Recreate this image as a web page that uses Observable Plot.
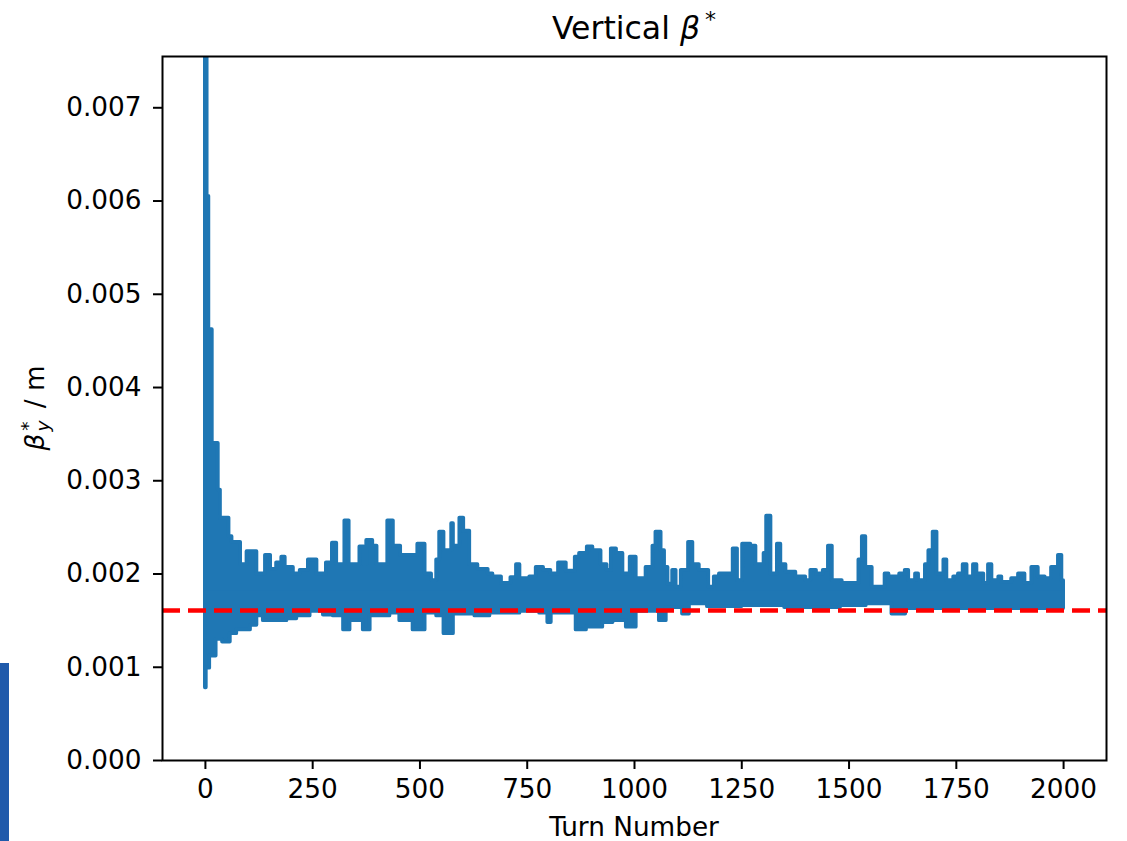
<!DOCTYPE html>
<html>
<head>
<meta charset="utf-8">
<script src="https://cdn.jsdelivr.net/npm/d3@7"></script>
<script src="https://cdn.jsdelivr.net/npm/@observablehq/plot@0.6"></script>
<style>
  html, body { margin: 0; padding: 0; background: #fff; }
  #wrap { position: relative; width: 1127px; height: 841px; overflow: hidden; }
  #edge { position: absolute; left: 0; top: 663px; width: 9px; height: 178px; background: #1f5aab; }
</style>
</head>
<body>
<div id="wrap"><div id="chart"></div><div id="edge"></div></div>
<script>
// ---- Data (envelope of the beta*_y trace per turn interval) ----
const upperTurn = [0,4,8,16,30,35,55,62,82,97,120,140,152,166,178,186,205,221,240,260,282,296,306,325,335,360,370,376,390,400,425,438,455,495,512,527,539,546,556,574,578,593,602,616,635,659,670,690,712,725,733,756,771,788,805,823,841,862,872,890,903,922,936,946,958,973,990,1004,1027,1043,1050,1062,1070,1078,1089,1097,1109,1126,1136,1151,1173,1186,1198,1230,1240,1252,1271,1283,1302,1308,1318,1333,1341,1353,1376,1399,1411,1424,1440,1452,1461,1484,1523,1531,1539,1554,1584,1593,1618,1631,1639,1655,1662,1678,1686,1696,1705,1721,1728,1744,1755,1766,1775,1790,1798,1814,1825,1833,1849,1856,1879,1895,1910,1926,1941,1957,1972,1988,1996,2000];
const upperBeta = [0.0085,0.00605,0.00462,0.0034,0.0029,0.0026,0.0024,0.00234,0.0021,0.00224,0.002,0.0022,0.00205,0.00212,0.00218,0.00207,0.002,0.00204,0.00215,0.002,0.00212,0.00233,0.0021,0.00257,0.0021,0.00229,0.0021,0.00236,0.0023,0.0021,0.00257,0.0023,0.0022,0.00232,0.002,0.00193,0.00215,0.00245,0.00225,0.00254,0.0023,0.0026,0.00246,0.0021,0.00205,0.002,0.00197,0.0019,0.00196,0.0021,0.00195,0.00197,0.00207,0.00204,0.002,0.00212,0.00203,0.00218,0.00222,0.00229,0.00225,0.0021,0.00204,0.00227,0.00222,0.002,0.00218,0.00195,0.00207,0.0023,0.00245,0.00225,0.00207,0.00189,0.00204,0.00186,0.00204,0.00234,0.0021,0.00204,0.00186,0.00197,0.002,0.00227,0.00193,0.00232,0.0023,0.0021,0.00222,0.00262,0.002,0.00232,0.0021,0.00202,0.00197,0.00193,0.00204,0.002,0.00204,0.0023,0.00193,0.0019,0.00215,0.0024,0.00207,0.00186,0.002,0.00197,0.002,0.00204,0.00193,0.002,0.00193,0.0021,0.00225,0.00245,0.002,0.00215,0.00193,0.00197,0.002,0.0021,0.00197,0.0021,0.002,0.0019,0.0021,0.00193,0.00197,0.00191,0.00195,0.002,0.0019,0.00207,0.00197,0.00195,0.00207,0.0022,0.00193,0.00193];

const lowerTurn = [0,2,10,25,40,58,73,105,120,135,190,213,244,275,298,322,337,368,384,430,453,484,512,539,556,578,628,663,733,779,798,806,864,888,926,950,981,1004,1058,1074,1112,1128,1170,1250,1350,1480,1540,1600,1632,2000];
const lowerBeta = [0.00078,0.00099,0.00112,0.0013,0.00127,0.00136,0.0014,0.00145,0.00155,0.0015,0.00152,0.00155,0.0016,0.00156,0.00155,0.0014,0.0015,0.0014,0.00155,0.00158,0.0015,0.0014,0.00158,0.00155,0.00136,0.00157,0.00155,0.00158,0.0016,0.00158,0.00148,0.00158,0.0014,0.00143,0.00148,0.0015,0.00143,0.0016,0.0015,0.00164,0.00157,0.00168,0.00165,0.00166,0.00164,0.00166,0.00168,0.00157,0.00163,0.00163];

const bandCenter = 0.0018;      // value always inside the trace band
const referenceBeta = 0.00161;  // red dashed design value
const xTicks = [0,250,500,750,1000,1250,1500,1750,2000];
const yTicks = [0,0.001,0.002,0.003,0.004,0.005,0.006,0.007];
const xDomain = [-100, 2100];
const yDomain = [0, 0.00755];

const upper = upperTurn.map((t, i) => ({turn: t, beta: upperBeta[i]}));
const lower = lowerTurn.map((t, i) => ({turn: t, beta: lowerBeta[i]}));

const BLUE = "#1f77b4";
const FONT = "DejaVu Sans";
const FS = 26.3;

const chart = Plot.plot({
  width: 1127,
  height: 841,
  marginLeft: 162,
  marginRight: 21,
  marginTop: 56,
  marginBottom: 81,
  style: {fontFamily: FONT, fontSize: FS + "px", color: "#000", background: "#fff"},
  x: {domain: xDomain},
  y: {domain: yDomain},
  marks: [
    Plot.areaY(upper, {x: "turn", y1: d => bandCenter, y2: "beta", curve: "step-after",
      fill: BLUE, stroke: BLUE, strokeWidth: 3.8, strokeLinejoin: "round", clip: true}),
    Plot.areaY(lower, {x: "turn", y1: "beta", y2: d => bandCenter, curve: "step-after",
      fill: BLUE, stroke: BLUE, strokeWidth: 3.8, strokeLinejoin: "round", clip: true}),
    Plot.ruleY([referenceBeta], {stroke: "#ff0000", strokeWidth: 4.5, strokeDasharray: "18,8"}),
    Plot.frame({stroke: "#000", strokeWidth: 2}),
    Plot.axisX({ticks: xTicks, tickFormat: d => String(d), tickSize: 9, tickPadding: 10,
      strokeWidth: 2, label: null, fontSize: FS}),
    Plot.axisY({ticks: yTicks, tickFormat: d3.format(".3f"), tickSize: 9, tickPadding: 12,
      strokeWidth: 2, label: null, fontSize: FS})
  ]
});
document.getElementById("chart").appendChild(chart);

const svg = d3.select(chart);
// Title
const title = svg.append("text")
  .attr("x", 634).attr("y", 39)
  .attr("text-anchor", "middle")
  .attr("font-family", FONT).attr("font-size", 31.5).attr("fill", "#000");
title.append("tspan").text("Vertical ");
title.append("tspan").attr("font-style", "italic").text("β");
title.append("tspan").attr("font-size", 22).attr("dy", -12).attr("dx", 5).text("*");

// X label
svg.append("text")
  .attr("x", 634).attr("y", 836)
  .attr("text-anchor", "middle")
  .attr("font-family", FONT).attr("font-size", FS).attr("fill", "#000")
  .text("Turn Number");

// Y label
const yl = svg.append("text")
  .attr("transform", "translate(44,408) rotate(-90)")
  .attr("text-anchor", "middle")
  .attr("font-family", FONT).attr("font-size", FS).attr("fill", "#000");
yl.append("tspan").attr("font-style", "italic").text("β");
yl.append("tspan").attr("font-size", 18.5).attr("dy", -10).attr("dx", 3).text("*");
yl.append("tspan").attr("font-size", 18.5).attr("font-style", "italic").attr("dy", 15).attr("dx", -10).text("y");
yl.append("tspan").attr("dy", -5).attr("dx", 4).text(" / m");
</script>
</body>
</html>
